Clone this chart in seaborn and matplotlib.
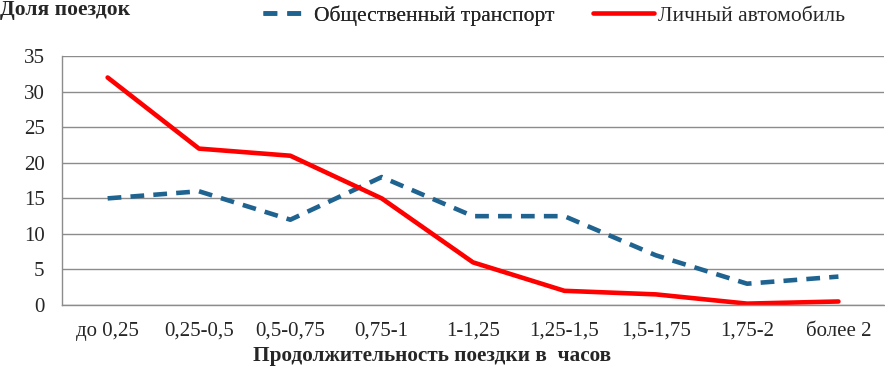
import matplotlib
matplotlib.use("Agg")
import matplotlib.pyplot as plt
import seaborn as sns
import pandas as pd
import numpy as np
from matplotlib.lines import Line2D

categories = ["до 0,25", "0,25-0,5", "0,5-0,75", "0,75-1", "1-1,25",
              "1,25-1,5", "1,5-1,75", "1,75-2", "более 2"]
public_transport = [15, 16, 12, 18, 12.5, 12.5, 7, 3, 4]
private_car = [32, 22, 21, 15, 6, 2, 1.5, 0.2, 0.5]
series_names = ["Общественный транспорт", "Личный автомобиль"]

sns.set_style("white")
plt.rcParams['font.family'] = ['Liberation Serif', 'DejaVu Serif']

BLUE = "#1F6391"
RED = "#FF0000"
GRID = "#8c8c8c"
SERIF = ['Liberation Serif', 'DejaVu Serif']

df = pd.DataFrame({
    "val": public_transport + private_car,
    "series": [series_names[0]] * len(categories) + [series_names[1]] * len(categories),
})
df["x"] = list(range(len(categories))) * 2

fig = plt.figure(figsize=(8.85, 3.72), dpi=100)
ax = fig.add_axes([0.070, 0.180, 0.929, 0.669])

sns.lineplot(data=df, x="x", y="val", hue="series", style="series",
             palette={series_names[0]: BLUE, series_names[1]: RED},
             dashes={series_names[0]: (3.0, 2.0), series_names[1]: ""},
             linewidth=3.3, ax=ax, legend=False, sort=False)

ax.set_xlim(-0.5, len(categories) - 0.5)
ax.set_ylim(0, 35)
ax.set_yticks(range(0, 36, 5))
ax.yaxis.grid(True, color=GRID, linewidth=1)
ax.set_axisbelow(True)
ax.set_xticks(range(len(categories)))
ax.set_xticklabels(categories)
ax.set_xticks(np.arange(-0.5, len(categories)), minor=True)
ax.tick_params(axis="x", which="major", length=0, pad=12, labelsize=15)
ax.tick_params(axis="x", which="minor", length=5, color=GRID, width=1)
ax.tick_params(axis="y", which="major", length=4.5, color=GRID, labelsize=15, pad=8)
for s in ["top", "right"]:
    ax.spines[s].set_visible(False)
for s in ["left", "bottom"]:
    ax.spines[s].set_color(GRID)
    ax.spines[s].set_linewidth(1)
ax.set_xlabel("")
ax.set_ylabel("")

fig.text(0.0, 0.973, "Доля поездок", fontsize=15.5, fontweight="bold", va="center",
         ha="left", family=SERIF)
fig.text(0.488, 0.042, "Продолжительность поездки в  часов", fontsize=15.3,
         fontweight="bold", va="center", ha="center", family=SERIF)

leg1 = fig.legend([Line2D([], [], color=BLUE, lw=3.3, dashes=(3.0, 2.2))], [series_names[0]],
                  loc="center left", bbox_to_anchor=(0.297, 0.958), frameon=False,
                  prop={'family': SERIF, 'size': 15.5}, handlelength=2.0, handletextpad=0.38,
                  borderpad=0, borderaxespad=0)
fig.add_artist(leg1)
fig.legend([Line2D([], [], color=RED, lw=3.3)], [series_names[1]],
           loc="center left", bbox_to_anchor=(0.670, 0.958), frameon=False,
           prop={'family': SERIF, 'size': 15.5}, handlelength=2.85, handletextpad=0.15,
           borderpad=0, borderaxespad=0)

fig.savefig("out.png", dpi=100)
